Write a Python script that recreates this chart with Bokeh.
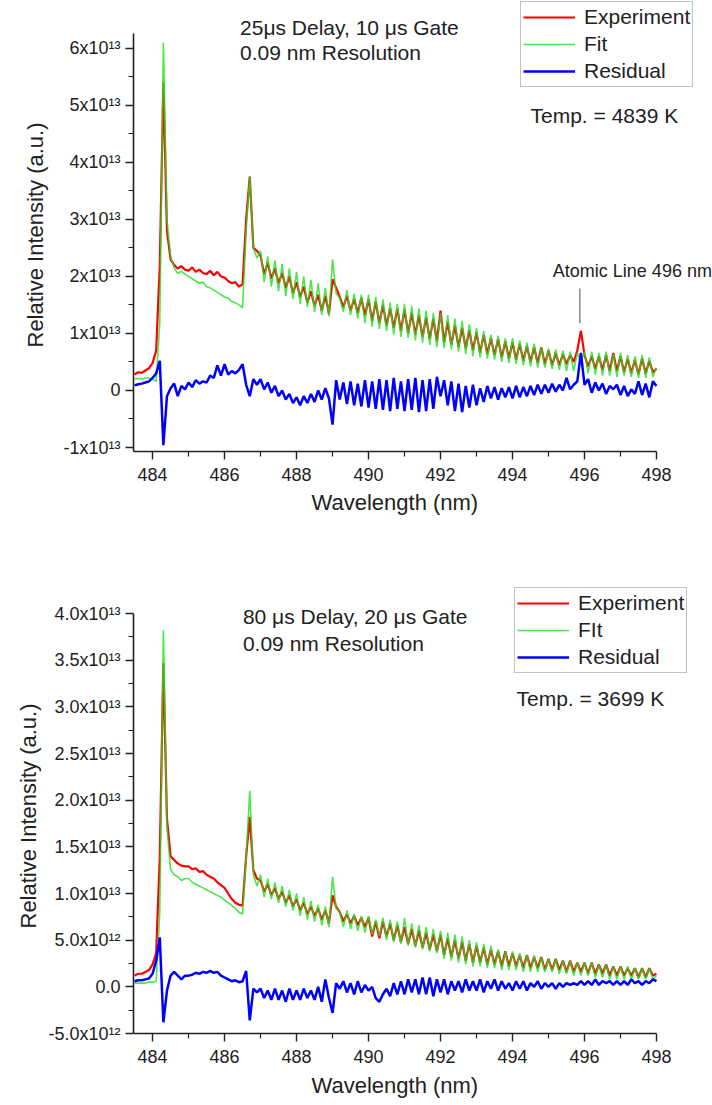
import numpy as np
from bokeh.plotting import figure
from bokeh.models import (Range1d, FixedTicker, CustomJSTickFormatter, Legend,
                          LegendItem, Label, ColumnDataSource, Title)
from bokeh.layouts import column
from bokeh.embed import file_html
from bokeh.resources import INLINE

FONT = "Liberation Sans"
UNIT = 1e12  # values below are in units of 1e12 a.u.

# sampling grid of the spectra (nm)
wavelength = np.round(np.arange(483.5, 498.0001, 0.1), 1)

# ---------------- Panel 1: 25 us delay ----------------
exp1 = [2.8, 3.2, 3.1, 3.5, 3.9,
        4.8, 7.0, 22, 54, 28, 23, 22.0, 21.4, 21.8, 21.2,
        21.0, 21.6, 20.8, 21.2, 20.6, 20.4, 21.0, 20.2, 20.8, 20.0,
        19.8, 19.2, 18.8, 19.0, 18.2, 18.6, 30, 37.5, 25, 24.5,
        23.6, 20.4, 22.4, 19.6, 21.4, 18.8, 20.6, 18.0, 20.0, 17.0,
        19.0, 16.4, 18.2, 15.4, 17.4, 14.8, 16.8, 14.0, 16.6, 13.4,
        19.5, 18.0, 16.4, 14.6, 16.6, 14.0, 16.0, 13.6, 16.2, 13.2,
        16.0, 12.2, 15.6, 11.8, 15.0, 11.4, 14.4, 11.0, 14.4, 10.4,
        14.2, 10.0, 13.6, 9.8, 13.2, 9.4, 12.8, 9.0, 12.6, 8.6,
        14.0, 8.4, 12.0, 8.0, 11.4, 7.6, 11.0, 7.4, 10.6, 7.0,
        10.2, 6.6, 9.8, 6.4, 9.2, 6.2, 9.0, 5.8, 8.6, 5.6,
        8.4, 5.4, 8.2, 5.2, 7.8, 5.0, 7.6, 4.8, 7.6, 4.6,
        7.0, 4.4, 6.6, 4.4, 6.4, 4.6, 6.2, 5.0, 7.0, 10.5,
        6.2, 4.2, 6.0, 3.8, 6.0, 3.6, 6.2, 3.4, 6.6, 3.4,
        6.0, 3.2, 5.6, 3.0, 5.4, 2.8, 5.6, 3.0, 5.2, 3.2,
        3.8]
fit1 = [2.0, 2.1, 2.0, 2.2, 2.2,
        2.0, 1.6, 12, 61, 30, 23.5, 21.5, 20.5, 20.9, 20.4,
        20.0, 19.6, 19.2, 18.8, 19.0, 18.2, 18.0, 17.6, 17.2, 16.8,
        16.4, 16.2, 15.6, 15.4, 15.0, 14.5, 28, 37.5, 25, 23.2,
        24.5, 19.0, 23.5, 18.2, 22.8, 17.4, 22.2, 16.6, 21.4, 16.0,
        20.8, 15.2, 20.0, 14.6, 19.4, 13.8, 18.8, 13.2, 18.0, 13.0,
        23.0, 17.0, 16.2, 13.8, 17.6, 13.2, 17.0, 12.6, 16.8, 11.8,
        16.8, 11.2, 16.4, 10.8, 16.0, 10.4, 15.4, 9.8, 15.2, 9.4,
        15.2, 9.2, 14.8, 8.8, 14.4, 8.4, 14.0, 8.0, 13.6, 7.6,
        13.6, 7.4, 13.2, 7.2, 12.6, 6.8, 12.2, 6.4, 11.6, 6.0,
        11.0, 5.8, 10.4, 5.6, 9.8, 5.4, 9.6, 5.0, 9.2, 4.8,
        9.2, 4.6, 8.8, 4.4, 8.4, 4.2, 8.2, 4.0, 7.6, 4.0,
        7.4, 3.8, 7.2, 3.6, 7.0, 3.4, 6.8, 3.4, 6.6, 5.0,
        6.8, 3.0, 6.8, 2.8, 6.6, 2.6, 6.8, 2.6, 6.4, 2.4,
        6.6, 2.6, 6.2, 2.4, 6.0, 2.2, 6.2, 2.2, 5.8, 2.4,
        4.0]
res1 = [0.9, 1.1, 1.2, 1.4, 1.6,
        2.2, 3.0, 5.2, -9.6, -1.0, 0.4, 1.2, -1.0, 0.8, 0.2,
        1.4, 0.6, 1.8, 1.2, 1.6, 1.4, 2.6, 2.2, 4.4, 2.6,
        4.6, 2.8, 3.4, 3.0, 3.6, 4.6, 1.0, -1.0, 2.0, 1.0,
        2.0, 0.2, 1.4, -0.4, 0.8, -1.0, 0.0, -1.6, -0.6, -2.2,
        -1.2, -2.6, -1.0, -2.2, -0.6, -2.0, 0.0, -1.6, 0.4, -1.4,
        -6.0, 1.8, -1.6, 1.4, -2.4, 1.6, -2.6, 1.2, -2.8, 1.8,
        -3.0, 1.6, -3.2, 2.0, -3.4, 1.8, -3.6, 2.2, -3.2, 1.6,
        -3.6, 2.0, -3.4, 2.2, -3.8, 1.8, -3.6, 2.0, -3.2, 2.4,
        -1.0, 1.8, -2.6, 1.6, -3.6, 1.2, -3.8, 0.8, -3.0, 1.0,
        -2.6, 0.4, -2.0, 0.8, -1.4, 0.6, -1.6, 0.4, -1.2, 0.6,
        -1.4, 0.8, -1.2, 0.6, -1.0, 0.8, -0.8, 1.0, -0.6, 1.0,
        -0.4, 1.2, -0.2, 1.0, 0.0, 2.2, 0.2, 1.0, 1.6, 6.6,
        1.0, 2.0, -0.4, 1.4, 0.0, 1.2, -0.6, 0.8, 0.2, 1.0,
        -0.8, 0.8, -1.0, 0.2, -0.6, 1.6, -0.8, 1.2, -1.2, 1.6,
        0.8]

# ---------------- Panel 2: 80 us delay ----------------
exp2 = [1.2, 1.4, 1.4, 1.6, 1.8,
        2.4, 3.6, 14, 34.7, 18, 14.0, 13.6, 13.2, 13.0, 12.9,
        12.9, 12.6, 12.7, 12.3, 12.4, 12.0, 11.8, 11.6, 11.2, 10.9,
        10.6, 10.0, 9.4, 9.0, 8.8, 8.7, 14, 18.2, 12.5, 11.6,
        11.4, 10.2, 11.0, 9.8, 10.6, 9.4, 10.2, 9.0, 9.8, 8.6,
        9.4, 8.2, 9.0, 7.8, 8.6, 7.6, 8.4, 7.2, 8.2, 6.8,
        9.8, 8.6, 8.0, 7.0, 7.8, 6.8, 7.6, 6.6, 7.4, 6.4,
        7.4, 5.4, 7.0, 5.2, 7.0, 5.4, 6.8, 5.0, 6.6, 4.8,
        6.4, 4.6, 6.2, 4.4, 6.0, 4.2, 5.8, 4.0, 5.6, 3.8,
        5.6, 3.4, 5.2, 3.2, 5.0, 3.0, 4.8, 2.8, 4.6, 2.6,
        4.4, 2.6, 4.2, 2.4, 4.0, 2.4, 3.8, 2.2, 3.8, 2.2,
        3.6, 2.2, 3.4, 2.0, 3.4, 2.0, 3.2, 2.0, 3.2, 1.8,
        3.0, 1.8, 3.0, 1.8, 2.8, 1.6, 2.8, 1.6, 2.6, 1.6,
        2.6, 1.4, 2.6, 1.4, 2.4, 1.4, 2.4, 1.2, 2.2, 1.2,
        2.2, 1.2, 2.0, 1.2, 2.0, 1.0, 2.0, 1.0, 2.0, 1.2,
        1.4]
fit2 = [0.4, 0.4, 0.4, 0.4, 0.5,
        0.5, 0.6, 8, 38.2, 17, 12.6, 12.0, 11.8, 11.4, 11.6,
        11.6, 11.2, 11.0, 10.8, 10.6, 10.4, 10.2, 10.0, 9.8, 9.6,
        9.3, 9.0, 8.7, 8.4, 8.0, 7.8, 14, 21.0, 12.0, 10.8,
        12.0, 9.6, 11.6, 9.4, 11.2, 9.0, 10.8, 8.6, 10.4, 8.2,
        10.0, 7.6, 9.6, 7.2, 9.2, 7.0, 8.8, 6.6, 8.6, 6.4,
        11.8, 8.4, 8.0, 6.4, 8.2, 6.2, 7.8, 6.0, 7.6, 5.8,
        7.6, 5.6, 7.2, 5.4, 7.4, 5.0, 7.2, 4.8, 7.0, 4.6,
        7.4, 4.4, 6.8, 4.2, 6.6, 4.0, 6.4, 3.8, 6.2, 3.6,
        6.0, 3.0, 5.8, 2.8, 5.6, 2.6, 5.4, 2.4, 5.0, 2.2,
        4.8, 2.2, 4.6, 2.0, 4.4, 2.0, 4.0, 1.8, 3.8, 1.8,
        3.8, 1.8, 3.6, 1.6, 3.4, 1.6, 3.4, 1.6, 3.2, 1.6,
        3.0, 1.6, 3.0, 1.4, 2.8, 1.4, 2.8, 1.2, 2.6, 1.2,
        2.6, 1.2, 2.6, 1.0, 2.4, 1.0, 2.4, 0.8, 2.2, 0.8,
        2.2, 0.8, 2.2, 0.8, 2.0, 0.8, 2.0, 0.8, 2.0, 0.8,
        1.2]
res2 = [0.6, 0.7, 0.7, 0.8, 0.9,
        1.4, 2.8, 5.3, -3.8, -0.4, 1.2, 1.6, 1.2, 0.8, 1.2,
        1.2, 1.3, 1.5, 1.4, 1.6, 1.5, 1.7, 1.5, 1.6, 1.2,
        1.0, 0.8, 0.6, 0.7, 0.5, 0.6, 1.7, -3.6, -0.2, -0.6,
        -0.2, -1.2, -0.4, -1.4, -0.2, -1.4, -0.4, -1.6, -0.2, -1.4,
        -0.4, -1.4, -0.2, -1.2, -0.4, -1.4, 0.0, -1.6, 0.8, -1.2,
        -2.8, 0.4, -0.2, 0.6, -0.6, 0.4, -0.8, 0.6, -0.6, 0.2,
        -0.4, 0.0, -1.2, -1.6, -0.8, -0.2, -1.0, 0.4, -0.8, 0.6,
        -0.8, 0.8, -0.6, 0.8, -0.8, 1.0, -0.8, 1.0, -1.0, 0.8,
        -0.6, 0.8, -0.8, 0.6, -0.4, 0.6, -0.6, 0.8, -0.4, 0.6,
        -0.4, 0.8, -0.6, 0.6, -0.2, 0.8, -0.4, 0.6, -0.2, 0.4,
        -0.4, 0.6, -0.2, 0.6, -0.4, 0.4, 0.0, 0.6, -0.2, 0.4,
        0.0, 0.4, -0.2, 0.4, 0.0, 0.4, 0.2, 0.4, 0.2, 0.6,
        0.2, 0.6, 0.2, 0.8, 0.2, 0.6, 0.4, 0.6, 0.2, 0.6,
        0.2, 0.6, 0.2, 0.8, 0.4, 0.6, 0.2, 0.6, 0.4, 0.8,
        0.6]

# ---------------- ticks and labels ----------------
x_ticks = [484, 486, 488, 490, 492, 494, 496, 498]
x_minor = [485, 487, 489, 491, 493, 495, 497]
top_y_ticks = [-1e13, 0, 1e13, 2e13, 3e13, 4e13, 5e13, 6e13]
top_y_labels = ["-1x10¹³", "0", "1x10¹³", "2x10¹³", "3x10¹³", "4x10¹³", "5x10¹³", "6x10¹³"]
top_y_minor = [-5e12, 5e12, 1.5e13, 2.5e13, 3.5e13, 4.5e13, 5.5e13]
bot_y_ticks = [-5e12, 0, 5e12, 1e13, 1.5e13, 2e13, 2.5e13, 3e13, 3.5e13, 4e13]
bot_y_labels = ["-5.0x10¹²", "0.0", "5.0x10¹²", "1.0x10¹³", "1.5x10¹³", "2.0x10¹³",
                "2.5x10¹³", "3.0x10¹³", "3.5x10¹³", "4.0x10¹³"]
bot_y_minor = [-2.5e12, 2.5e12, 7.5e12, 1.25e13, 1.75e13, 2.25e13, 2.75e13, 3.25e13, 3.75e13]

top_legend_labels = ["Experiment", "Fit", "Residual"]
bot_legend_labels = ["Experiment", "FIt", "Residual"]
x_title = "Wavelength (nm)"
y_title = "Relative Intensity (a.u.)"

X_AXIS_SPAN = (483.47, 498.0)
X_VIEW = (483.47, 499.556)


def make_panel(exp, fit, res, yview, yspan, yticks, ylabels, yminor, legend_labels,
               height, border_bottom, xlab_standoff, ylab_standoff, ylab_offset,
               legend_loc, texts, note=None):
    p = figure(width=712, height=height, output_backend="svg", toolbar_location=None,
               x_range=Range1d(*X_VIEW), y_range=Range1d(*yview),
               min_border_left=133, min_border_right=0,
               min_border_top=0, min_border_bottom=border_bottom)
    p.outline_line_color = None
    p.grid.visible = False
    p.background_fill_color = "white"
    p.border_fill_color = "white"

    src = ColumnDataSource(dict(x=wavelength,
                                exp=np.array(exp) * UNIT,
                                fit=np.array(fit) * UNIT,
                                res=np.array(res) * UNIT))
    r_exp = p.line("x", "exp", source=src, line_color="#ff0000", line_width=2.2)
    r_fit = p.line("x", "fit", source=src, line_color="#22e022", line_width=1.6, line_alpha=0.8)
    r_res = p.line("x", "res", source=src, line_color="#0000ff", line_width=2.5)

    for ax in (p.xaxis[0], p.yaxis[0]):
        ax.axis_line_color = "#222222"
        ax.axis_line_width = 1.6
        ax.major_tick_line_color = "#222222"
        ax.minor_tick_line_color = "#222222"
        ax.major_tick_line_width = 1.4
        ax.minor_tick_line_width = 1.2
        ax.major_tick_in = 0
        ax.minor_tick_in = 0
        ax.major_tick_out = 8
        ax.minor_tick_out = 5
        ax.major_label_text_font = FONT
        ax.major_label_text_font_size = "18px"
        ax.major_label_text_color = "#222222"

    p.xaxis.bounds = X_AXIS_SPAN
    p.xaxis.ticker = FixedTicker(ticks=x_ticks, minor_ticks=x_minor)
    p.xaxis.major_label_standoff = 8

    p.yaxis.bounds = yspan
    p.yaxis.ticker = FixedTicker(ticks=yticks, minor_ticks=yminor)
    p.yaxis.formatter = CustomJSTickFormatter(
        args=dict(tick_vals=yticks, tick_texts=ylabels),
        code="""
        for (let i = 0; i < tick_vals.length; i++) {
            if (Math.abs(tick_vals[i] - tick) < 1e9) { return tick_texts[i]; }
        }
        return "";
        """)
    p.yaxis.major_label_standoff = 5

    # axis titles placed as side titles so that they are centred on the drawn axes
    p.add_layout(Title(text=x_title, align="left", offset=178, standoff=xlab_standoff,
                       text_font=FONT, text_font_size="22px", text_font_style="normal",
                       text_color="#222222"), "below")
    p.add_layout(Title(text=y_title, align="left", offset=ylab_offset, standoff=ylab_standoff,
                       text_font=FONT, text_font_size="22px", text_font_style="normal",
                       text_color="#222222"), "left")

    legend = Legend(items=[LegendItem(label=legend_labels[0], renderers=[r_exp]),
                           LegendItem(label=legend_labels[1], renderers=[r_fit]),
                           LegendItem(label=legend_labels[2], renderers=[r_res])],
                    location=legend_loc, margin=0, padding=2, spacing=1,
                    glyph_width=52, glyph_height=26, label_height=26,
                    label_standoff=9,
                    label_text_font=FONT, label_text_font_size="21px",
                    label_text_color="#222222",
                    border_line_color="#888888", border_line_width=1.2,
                    background_fill_color="white", background_fill_alpha=1.0)
    p.add_layout(legend)

    for (tx, ty, t) in texts:
        p.add_layout(Label(x=tx, y=ty, text=t, text_font=FONT, text_font_size="21px",
                           text_color="#222222", text_baseline="alphabetic"))

    if note is not None:
        nx, ny0, ny1, ntx, nty, ntext = note
        p.segment(x0=[nx], y0=[ny0], x1=[nx], y1=[ny1], line_color="#888888", line_width=1.5)
        p.add_layout(Label(x=ntx, y=nty, text=ntext, text_font=FONT, text_font_size="18px",
                           text_color="#222222", text_baseline="alphabetic"))
    return p


top_texts = [(486.43, 6.37e13, "25μs Delay, 10 μs Gate"),
             (486.43, 5.92e13, "0.09 nm Resolution"),
             (494.5, 4.83e13, "Temp. = 4839 K")]
bot_texts = [(486.51, 3.97e13, "80 μs Delay, 20 μs Gate"),
             (486.51, 3.68e13, "0.09 nm Resolution"),
             (494.11, 3.09e13, "Temp. = 3699 K")]
atomic_note = (495.87, 1.18e13, 1.79e13, 495.12, 2.1e13, "Atomic Line 496 nm")

p1 = make_panel(exp1, fit1, res1, (-1.07e13, 6.8387e13), (-1.07e13, 6.26e13),
                top_y_ticks, top_y_labels, top_y_minor, top_legend_labels,
                552, 101, 9, 25, 104, (387, 364), top_texts, atomic_note)
p2 = make_panel(exp2, fit2, res2, (-5e12, 4.6536e13), (-5e12, 4e13),
                bot_y_ticks, bot_y_labels, bot_y_minor, bot_legend_labels,
                553, 72, 10, 10, 105, (381, 360), bot_texts)

layout = column(p1, p2, spacing=0)
open("out.html", "w").write(file_html(layout, INLINE))
